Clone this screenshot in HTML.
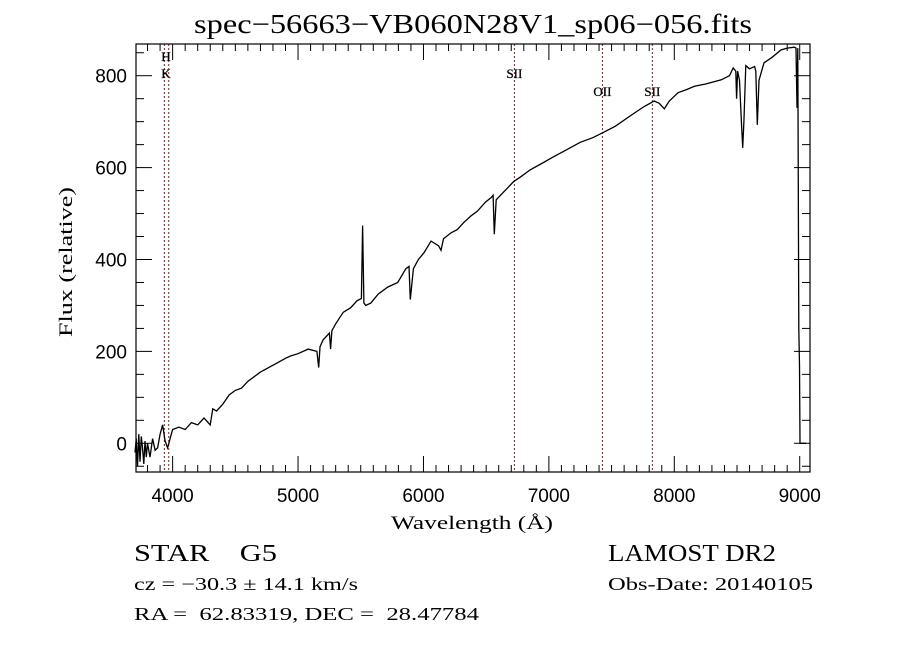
<!DOCTYPE html>
<html><head><meta charset="utf-8"><style>
html,body{margin:0;padding:0;background:#fff;}
svg{display:block;}
text{white-space:pre;}
</style></head><body>
<svg id="chart" width="900" height="649" viewBox="0 0 900 649" xmlns="http://www.w3.org/2000/svg" xml:space="preserve">
<rect width="900" height="649" fill="#fff"/>
<text x="473" y="33" text-anchor="middle" font-family="Liberation Serif, serif" font-size="27" textLength="558" lengthAdjust="spacingAndGlyphs">spec−56663−VB060N28V1_sp06−056.fits</text>
<g id="plot"></g>
<text x="472" y="529" text-anchor="middle" font-family="Liberation Serif, serif" font-size="19" textLength="162" lengthAdjust="spacingAndGlyphs">Wavelength (Å)</text>
<text transform="translate(72,262) rotate(-90)" text-anchor="middle" font-family="Liberation Serif, serif" font-size="19" textLength="150" lengthAdjust="spacingAndGlyphs">Flux (relative)</text>
<text x="134" y="561" font-family="Liberation Serif, serif" font-size="24" textLength="143" lengthAdjust="spacingAndGlyphs">STAR    G5</text>
<text x="134" y="590" font-family="Liberation Serif, serif" font-size="18" textLength="224" lengthAdjust="spacingAndGlyphs">cz = −30.3 ± 14.1 km/s</text>
<text x="134" y="620" font-family="Liberation Serif, serif" font-size="18" textLength="345" lengthAdjust="spacingAndGlyphs">RA =  62.83319, DEC =  28.47784</text>
<text x="608" y="561" font-family="Liberation Serif, serif" font-size="24" textLength="168" lengthAdjust="spacingAndGlyphs">LAMOST DR2</text>
<text x="608" y="590" font-family="Liberation Serif, serif" font-size="18" textLength="205" lengthAdjust="spacingAndGlyphs">Obs-Date: 20140105</text>
</svg>
<script>
const wavelengths=[3700,3710,3720,3730,3740,3750,3760,3770,3780,3790,3800,3820,3840,3860,3880,3900,3920,3940,3960,3980,4000,4050,4100,4150,4200,4250,4300,4320,4350,4400,4450,4500,4550,4600,4700,4800,4900,4940,5000,5080,5150,5165,5175,5200,5250,5260,5270,5300,5360,5420,5470,5505,5515,5525,5540,5580,5640,5715,5795,5860,5885,5895,5920,5960,6005,6060,6120,6140,6160,6220,6270,6320,6380,6430,6495,6540,6555,6565,6580,6650,6720,6775,6850,6950,7040,7150,7250,7350,7430,7530,7630,7700,7760,7840,7880,7920,7960,8030,8100,8160,8250,8375,8440,8470,8490,8497,8505,8520,8535,8545,8555,8570,8600,8640,8650,8662,8675,8715,8780,8850,8900,8955,8970,8978,8985,8993,8998,9002,9050];
const fluxes=[-20,10,-50,20,-40,15,-10,-45,5,-30,0,-30,10,-15,-10,20,40,5,-10,10,30,35,30,45,40,55,40,75,70,85,105,115,120,135,155,170,185,190,195,205,200,165,210,225,240,205,245,260,285,295,310,315,474,305,300,305,325,340,350,380,385,313,380,400,415,440,430,420,445,458,465,480,495,505,525,535,540,455,530,550,570,580,595,610,624,640,655,665,676,690,709,722,733,745,740,728,745,763,770,777,782,791,800,817,810,750,810,790,700,643,700,822,815,820,810,693,790,828,840,856,860,862,860,730,860,250,170,0,0];
const tickValsX=[4000,5000,6000,7000,8000,9000];
const tickLabelsX=["4000","5000","6000","7000","8000","9000"];
const tickValsY=[0,200,400,600,800];
const tickLabelsY=["0","200","400","600","800"];
const lineWaves=[3934,3969,6725,7427,7825];
const lineLabels=["K","H","SII","OII","SII"];
const lineLabelRows=[1,0,1,2,2];

const L=136,R=810,T=44,B=472;
const xmin=3708,xmax=9082,ymin=-62.5,ymax=869;
const sx=v=>L+(v-xmin)/(xmax-xmin)*(R-L);
const sy=v=>B-(v-ymin)/(ymax-ymin)*(B-T);
const NS="http://www.w3.org/2000/svg";
const g=document.getElementById('plot');
function mk(tag,attrs){const e=document.createElementNS(NS,tag);for(const k in attrs)e.setAttribute(k,attrs[k]);g.appendChild(e);return e;}

lineWaves.forEach((w,i)=>{
  const ln=mk('line',{x1:sx(w),x2:sx(w),y1:T,y2:B,stroke:'#8b1a1a','stroke-width':1,'stroke-dasharray':'2,2'});
  
  
  const ys=[61,78,96];
  const lx=(lineLabels[i]==='K'||lineLabels[i]==='H')?166:sx(w);
  const t=mk('text',{x:lx,y:ys[lineLabelRows[i]],'text-anchor':'middle','font-family':'Liberation Serif, serif','font-size':13,'stroke':'#000','stroke-width':0.3});
  t.textContent=lineLabels[i];
  
  
});

let d='';
wavelengths.forEach((w,i)=>{d+=(i?'L':'M')+sx(w).toFixed(1)+','+sy(fluxes[i]).toFixed(1);});
const sp=mk('path',{d:d,fill:'none',stroke:'#000','stroke-width':1.3,'stroke-linejoin':'miter'});



const fr=mk('rect',{x:L,y:T,width:R-L,height:B-T,fill:'none',stroke:'#000','stroke-width':1.2});



for(let w=3800;w<=9000;w+=100){
  const major=w%1000===0;const len=major?16:7;const x=sx(w);
  mk('line',{x1:x,x2:x,y1:B,y2:B-len,stroke:'#000','stroke-width':1});
  mk('line',{x1:x,x2:x,y1:T,y2:T+len,stroke:'#000','stroke-width':1});
}
tickValsX.forEach((v,i)=>{
  const t=mk('text',{x:sx(v),y:502,'text-anchor':'middle','font-family':'Liberation Sans, sans-serif','font-size':19});
  t.textContent=tickLabelsX[i];
  
  
});
for(let v=-50;v<=850;v+=50){
  const major=v%200===0;const len=major?16:8;const y=sy(v);
  mk('line',{x1:L,x2:L+len,y1:y,y2:y,stroke:'#000','stroke-width':1});
  mk('line',{x1:R,x2:R-len,y1:y,y2:y,stroke:'#000','stroke-width':1});
}
tickValsY.forEach((v,i)=>{
  const t=mk('text',{x:127,y:sy(v)+7,'text-anchor':'end','font-family':'Liberation Sans, sans-serif','font-size':19});
  t.textContent=tickLabelsY[i];
  
  
});
</script>
</body></html>
